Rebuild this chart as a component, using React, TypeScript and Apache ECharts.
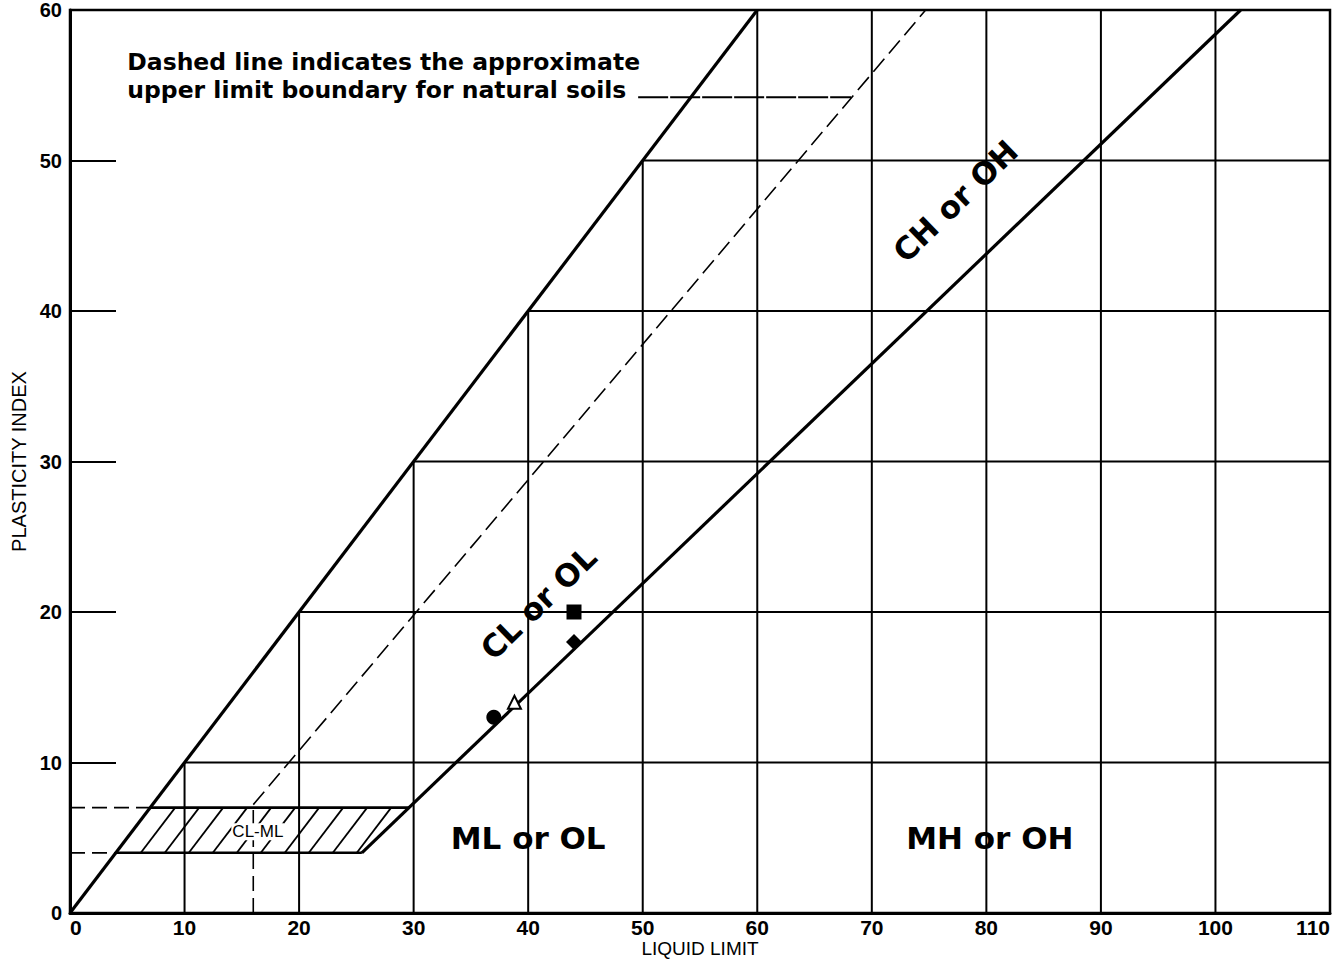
import React, { useEffect, useRef } from "react";
import * as echarts from "echarts";

// Axes
const xTicks = [0, 10, 20, 30, 40, 50, 60, 70, 80, 90, 100, 110];
const yTicks = [0, 10, 20, 30, 40, 50, 60];
const X_MAX = 110;
const Y_MAX = 60;

// Boundary lines: [liquid limit, plasticity index]
const piEqualsLL = [[0, 0], [60, 60]];
const aLine = [[25.48, 4], [102.2, 60]];
const uLineVertical = [[16, 0], [16, 7.2]];
const uLineDiagonal = [[16, 7.2], [74.7, 60]];
const clmlTop = [[7, 7], [29.59, 7]];
const clmlBottom = [[4, 4], [25.48, 4]];
const dashedTop = [[0, 7], [7, 7]];
const dashedBottom = [[0, 4], [4, 4]];
const leader = [[49.6, 54.2], [68.2, 54.2]];
const clmlZone = [[4, 4], [25.48, 4], [29.59, 7], [7, 7]];

// Sample points
const circlePts = [[37, 13]];
const trianglePts = [[38.8, 14]];
const squarePts = [[44, 20]];
const diamondPts = [[44, 18]];

// Text
const zoneLabels = [
  { name: "CL or OL", value: [40.9, 20.6], rotate: 44 },
  { name: "CH or OH", value: [77.3, 47.3], rotate: 44 },
  { name: "ML or OL", value: [40, 5], rotate: 0 },
  { name: "MH or OH", value: [80.3, 5], rotate: 0 },
];
const clmlLabel = { name: "CL-ML", value: [16.4, 5.4] };
const noteLines = [
  "Dashed line indicates the approximate",
  "upper limit boundary for natural soils",
];
const notePos = [5, 55.6];
const xName = "LIQUID LIMIT";
const yName = "PLASTICITY INDEX";

const TICK_FONT = "'Liberation Sans', Arial, sans-serif";
const LABEL_FONT = "'DejaVu Sans', sans-serif";

function seg(data: number[][], width: number, type: any = "solid", z = 3) {
  return {
    type: "line",
    data,
    symbol: "none",
    silent: true,
    z,
    lineStyle: { color: "#000", width, type, cap: "butt" },
  };
}

export default function App() {
  const ref = useRef<HTMLDivElement>(null);

  useEffect(() => {
    if (!ref.current) return;
    const chart = echarts.init(ref.current, null, { renderer: "svg" });

    const gridSegments: number[][][] = [];
    xTicks
      .filter((t) => t > 0 && t < X_MAX)
      .forEach((t) => gridSegments.push([[t, 0], [t, Math.min(t, Y_MAX)]]));
    yTicks
      .filter((t) => t > 0 && t < Y_MAX)
      .forEach((t) => gridSegments.push([[t, t], [X_MAX, t]]));

    const series: any[] = [];
    gridSegments.forEach((s) => series.push(seg(s, 2, "solid", 2)));

    series.push(seg(piEqualsLL, 3.2));
    series.push(seg(aLine, 3.2));
    series.push(seg(uLineVertical, 1.6, [15, 7]));
    series.push(seg(uLineDiagonal, 1.6, [17, 7]));
    series.push(seg(clmlTop, 2.6));
    series.push(seg(clmlBottom, 2.6));
    series.push(seg(dashedTop, 1.8, [15, 7]));
    series.push(seg(dashedBottom, 1.8, [15, 7]));
    series.push(seg(leader, 2, [30, 2]));

    series.push({
      type: "custom",
      silent: true,
      z: 3,
      data: [clmlZone[0]],
      renderItem: (_params: any, api: any) => {
        const pts = clmlZone.map((p) => api.coord(p));
        const [p1, p2, , p4] = pts;
        const dx = p4[0] - p1[0];
        const dy = p4[1] - p1[1];
        const children: any[] = [];
        for (let bx = p1[0] + 25; bx < p2[0] - 4; bx += 24) {
          children.push({
            type: "line",
            shape: { x1: bx, y1: p1[1], x2: bx + dx, y2: p1[1] + dy },
            style: { stroke: "#000", lineWidth: 1.8 },
          });
        }
        return { type: "group", children };
      },
    });

    const marker = (data: number[][], symbol: string, size: number, fill: string, border = 0) => ({
      type: "scatter",
      data,
      symbol,
      symbolSize: size,
      silent: true,
      z: 5,
      itemStyle: { color: fill, borderColor: "#000", borderWidth: border, opacity: 1 },
    });
    series.push(marker(circlePts, "circle", 15, "#000"));
    series.push(marker(trianglePts, "triangle", 13, "#fff", 2));
    series.push(marker(squarePts, "rect", 15, "#000"));
    series.push(marker(diamondPts, "diamond", 16, "#000"));

    const hidden = { color: "rgba(0,0,0,0)", opacity: 1 };

    series.push({
      type: "scatter",
      silent: true,
      z: 6,
      symbolSize: 1,
      itemStyle: hidden,
      data: zoneLabels.map((l) => ({
        value: l.value,
        name: l.name,
        label: { rotate: l.rotate },
      })),
      label: {
        show: true,
        position: "inside",
        formatter: (p: any) => p.name,
        color: "#000",
        fontFamily: LABEL_FONT,
        fontWeight: "bold",
        fontSize: 31,
        align: "center",
        verticalAlign: "middle",
      },
    });

    series.push({
      type: "scatter",
      silent: true,
      z: 6,
      symbolSize: 1,
      itemStyle: hidden,
      data: [{ value: clmlLabel.value, name: clmlLabel.name }],
      label: {
        show: true,
        position: "inside",
        formatter: (p: any) => p.name,
        color: "#000",
        fontFamily: TICK_FONT,
        fontSize: 17,
        align: "center",
        verticalAlign: "middle",
        backgroundColor: "#fff",
        padding: [0, 1],
      },
    });

    series.push({
      type: "scatter",
      silent: true,
      z: 6,
      symbolSize: 1,
      itemStyle: hidden,
      data: [{ value: notePos, name: noteLines.join("\n") }],
      label: {
        show: true,
        position: "inside",
        formatter: (p: any) => p.name,
        color: "#000",
        fontFamily: LABEL_FONT,
        fontWeight: "bold",
        fontSize: 23.5,
        lineHeight: 28,
        align: "left",
        verticalAlign: "middle",
      },
    });

    chart.setOption({
      animation: false,
      backgroundColor: "#fff",
      grid: {
        left: 70,
        right: 14,
        top: 10,
        bottom: 48,
        containLabel: false,
        outerBoundsMode: "none",
        show: true,
        borderColor: "#000",
        borderWidth: 2.5,
        backgroundColor: "transparent",
      },
      xAxis: {
        type: "value",
        min: 0,
        max: X_MAX,
        interval: 10,
        name: xName,
        nameLocation: "middle",
        nameGap: 26,
        nameMoveOverlap: false,
        nameTextStyle: { color: "#000", fontFamily: TICK_FONT, fontSize: 19 },
        axisLine: { show: true, lineStyle: { color: "#000", width: 3 } },
        axisTick: { show: false },
        splitLine: { show: false },
        axisLabel: {
          color: "#000",
          fontFamily: TICK_FONT,
          fontWeight: "bold",
          fontSize: 21,
          margin: 4,
          alignMinLabel: "left",
          alignMaxLabel: "right",
        },
      },
      yAxis: {
        type: "value",
        min: 0,
        max: Y_MAX,
        interval: 10,
        name: yName,
        nameLocation: "middle",
        nameGap: 40,
        nameTextStyle: { color: "#000", fontFamily: TICK_FONT, fontSize: 20 },
        axisLine: { show: true, lineStyle: { color: "#000", width: 3 } },
        axisTick: { show: true, inside: true, length: 46, lineStyle: { color: "#000", width: 2 } },
        splitLine: { show: false },
        axisLabel: {
          color: "#000",
          fontFamily: TICK_FONT,
          fontWeight: "bold",
          fontSize: 20,
          margin: 8,
        },
      },
      series,
    });

    return () => chart.dispose();
  }, []);

  return (
    <div
      ref={ref}
      style={{ position: "fixed", left: 0, top: 0, width: 1344, height: 961, background: "#fff" }}
    />
  );
}
